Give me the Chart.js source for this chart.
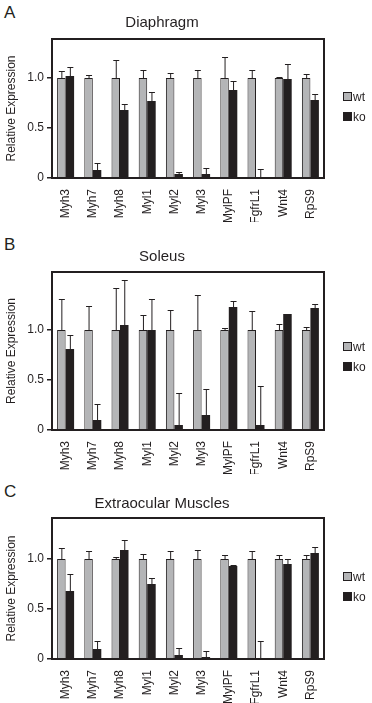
<!DOCTYPE html>
<html>
<head>
<meta charset="utf-8">
<script src="https://cdn.jsdelivr.net/npm/chart.js@4"></script>
<style>
  body { margin: 0; background: #fff; font-family: "Liberation Sans", Arial, sans-serif; color: #231f20; }
  .painel { position: absolute; left: 0; width: 372px; }
  .letra { position: absolute; left: 4px; font-size: 17px; }
  .legenda { position: absolute; left: 343px; font-size: 12px; line-height: 12px; }
  .legenda div { height: 12px; margin-bottom: 8px; white-space: nowrap; }
  .legenda span.caixa { display: inline-block; width: 7px; height: 7px; border: 1px solid #231f20; margin-right: 1px; vertical-align: 0; }
</style>
</head>
<body>
<div class="letra" style="top:3px;">A</div>
<div class="letra" style="top:235px;">B</div>
<div class="letra" style="top:482px;">C</div>
<div class="painel" style="top:0;"><canvas id="chart-a" width="372" height="222"></canvas></div>
<div class="painel" style="top:232px;"><canvas id="chart-b" width="372" height="242"></canvas></div>
<div class="painel" style="top:479px;"><canvas id="chart-c" width="372" height="224"></canvas></div>
<div class="legenda" id="leg-a" style="top:91px;"></div>
<div class="legenda" id="leg-b" style="top:341px;"></div>
<div class="legenda" id="leg-c" style="top:571px;"></div>
<script>
var genes = ['Myh3', 'Myh7', 'Myh8', 'Myl1', 'Myl2', 'Myl3', 'MylPF', 'FgfrL1', 'Wnt4', 'RpS9'];
var yTicks = [0, 0.5, 1.0];

// Diaphragm
var diaWt    = [1, 1, 1, 1, 1, 1, 1, 1, 1, 1];
var diaWtErr = [0.07, 0.03, 0.18, 0.08, 0.05, 0.08, 0.21, 0.08, 0.01, 0.04];
var diaKo    = [1.02, 0.08, 0.68, 0.77, 0.04, 0.04, 0.88, 0.01, 0.99, 0.78];
var diaKoErr = [0.09, 0.07, 0.06, 0.09, 0.02, 0.06, 0.09, 0.08, 0.15, 0.06];

// Soleus
var solWt    = [1, 1, 1, 1, 1, 1, 1, 1, 1, 1];
var solWtErr = [0.31, 0.24, 0.42, 0.15, 0.20, 0.35, 0.02, 0.19, 0.06, 0.03];
var solKo    = [0.81, 0.10, 1.05, 1.00, 0.05, 0.15, 1.23, 0.05, 1.16, 1.22];
var solKoErr = [0.14, 0.16, 0.45, 0.31, 0.32, 0.26, 0.06, 0.39, 0, 0.04];

// Extraocular Muscles
var eomWt    = [1, 1, 1, 1, 1, 1, 1, 1, 1, 1];
var eomWtErr = [0.11, 0.08, 0.02, 0.05, 0.08, 0.09, 0.04, 0.08, 0.04, 0.04];
var eomKo    = [0.68, 0.10, 1.09, 0.75, 0.04, 0.02, 0.93, 0.01, 0.95, 1.06];
var eomKoErr = [0.17, 0.08, 0.10, 0.06, 0.07, 0.06, 0.01, 0.17, 0.05, 0.06];

var corTexto = '#231f20';
var corWt = '#b4b5b7';
var corKo = '#231f20';

Chart.defaults.font.family = '"Liberation Sans", Arial, sans-serif';
Chart.defaults.color = corTexto;

var barrasErro = {
  id: 'barrasErro',
  afterDatasetsDraw: function (chart) {
    var ctx = chart.ctx, y = chart.scales.y;
    chart.data.datasets.forEach(function (ds, i) {
      chart.getDatasetMeta(i).data.forEach(function (bar, j) {
        var e = ds.erros[j];
        if (!e) return;
        var topo = y.getPixelForValue(ds.data[j] + e);
        ctx.save();
        ctx.strokeStyle = corTexto; ctx.lineWidth = 1;
        ctx.beginPath();
        ctx.moveTo(bar.x + 0.5, bar.y); ctx.lineTo(bar.x + 0.5, topo + 0.5);
        ctx.moveTo(bar.x - 2.5, topo + 0.5); ctx.lineTo(bar.x + 3.5, topo + 0.5);
        ctx.stroke();
        ctx.restore();
      });
    });
  }
};

var moldura = {
  id: 'moldura',
  afterDraw: function (chart) {
    var a = chart.chartArea, ctx = chart.ctx;
    ctx.save();
    ctx.strokeStyle = corTexto; ctx.lineWidth = 2;
    ctx.strokeRect(a.left, a.top, a.right - a.left, a.bottom - a.top);
    ctx.restore();
  }
};

function legenda(id) {
  document.getElementById(id).innerHTML =
    '<div><span class="caixa" style="background:' + corWt + ';"></span>wt</div>' +
    '<div><span class="caixa" style="background:' + corKo + ';"></span>ko</div>';
}

function painel(idCanvas, titulo, wt, wtErr, ko, koErr, yMax, padTopo, padTitulo) {
  new Chart(document.getElementById(idCanvas), {
    type: 'bar',
    data: {
      labels: genes,
      datasets: [
        { label: 'wt', data: wt, erros: wtErr, backgroundColor: corWt, borderColor: corTexto, borderWidth: 1,
          categoryPercentage: 0.625, barPercentage: 1 },
        { label: 'ko', data: ko, erros: koErr, backgroundColor: corKo, borderColor: corKo, borderWidth: 0,
          categoryPercentage: 0.625, barPercentage: 1 }
      ]
    },
    options: {
      responsive: false,
      animation: false,
      layout: { padding: { top: padTopo, right: 48, left: 0, bottom: 0 } },
      plugins: {
        legend: { display: false },
        tooltip: { enabled: false },
        title: { display: true, text: titulo, font: { size: 15, weight: 'normal' }, color: corTexto,
          padding: { top: 0, bottom: padTitulo } }
      },
      scales: {
        x: {
          grid: { display: false },
          border: { display: false },
          ticks: { minRotation: 90, maxRotation: 90, autoSkip: false, padding: 3, font: { size: 12 }, color: corTexto },
          afterFit: function (s) { s.height = 44; }
        },
        y: {
          min: 0, max: yMax,
          afterBuildTicks: function (s) { s.ticks = yTicks.map(function (v) { return { value: v }; }); },
          grid: { drawOnChartArea: false, drawTicks: true, tickLength: 5, color: corTexto, lineWidth: 1.5 },
          border: { display: false },
          ticks: {
            padding: 3, font: { size: 12 }, color: corTexto,
            callback: function (v) { return v === 0 ? '0' : Number(v).toFixed(1); }
          },
          title: { display: true, text: 'Relative Expression', font: { size: 12 }, color: corTexto },
          afterFit: function (s) { s.width = 52; }
        }
      }
    },
    plugins: [barrasErro, moldura]
  });
}

painel('chart-a', 'Diaphragm', diaWt, diaWtErr, diaKo, diaKoErr, 1.39, 14, 7);
painel('chart-b', 'Soleus', solWt, solWtErr, solKo, solKoErr, 1.58, 16, 6);
painel('chart-c', 'Extraocular Muscles', eomWt, eomWtErr, eomKo, eomKoErr, 1.41, 16, 5);
legenda('leg-a'); legenda('leg-b'); legenda('leg-c');
</script>
</body>
</html>
